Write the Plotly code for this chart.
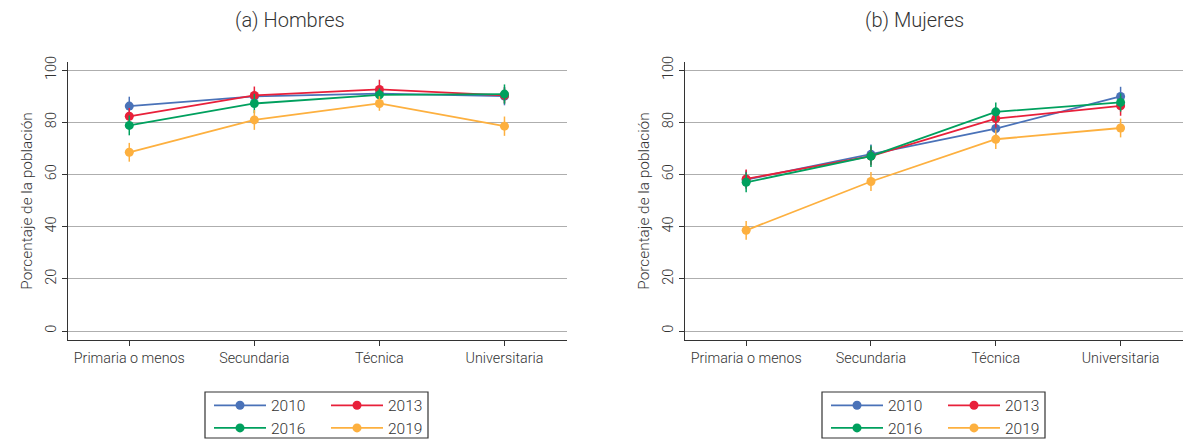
import plotly.graph_objects as go

categories = ["Primaria o menos", "Secundaria", "Técnica", "Universitaria"]
years = ["2010", "2013", "2016", "2019"]

# (a) Hombres
hombres_2010 = [86.2, 89.9, 91.0, 90.0]
hombres_2013 = [82.3, 90.3, 92.6, 90.3]
hombres_2016 = [78.8, 87.2, 90.5, 90.8]
hombres_2019 = [68.5, 80.9, 87.2, 78.5]
hombres_err_2010 = [3.6, 2.2, 2.0, 3.5]
hombres_err_2013 = [3.2, 3.4, 3.7, 3.0]
hombres_err_2016 = [3.8, 3.7, 2.5, 3.7]
hombres_err_2019 = [3.6, 3.8, 2.8, 3.7]

# (b) Mujeres
mujeres_2010 = [58.0, 67.7, 77.6, 89.9]
mujeres_2013 = [58.3, 67.0, 81.4, 86.3]
mujeres_2016 = [57.0, 67.0, 84.0, 87.6]
mujeres_2019 = [38.6, 57.3, 73.5, 77.8]
mujeres_err_2010 = [3.5, 3.8, 3.7, 3.7]
mujeres_err_2013 = [3.6, 3.5, 3.5, 3.8]
mujeres_err_2016 = [3.8, 4.1, 3.6, 3.5]
mujeres_err_2019 = [3.6, 3.6, 3.7, 3.6]

colors = {"2010": "#4A72B8", "2013": "#E8203A", "2016": "#00A05E", "2019": "#FDB03F"}

W, H = 1183, 440
FONT = "Roboto"
TXT = "#333333"

def px_x(p):
    return p / W

def px_y(p):
    return 1 - p / H

panels = [
    ("x", "y", [hombres_2010, hombres_2013, hombres_2016, hombres_2019],
     [hombres_err_2010, hombres_err_2013, hombres_err_2016, hombres_err_2019]),
    ("x2", "y2", [mujeres_2010, mujeres_2013, mujeres_2016, mujeres_2019],
     [mujeres_err_2010, mujeres_err_2013, mujeres_err_2016, mujeres_err_2019]),
]

fig = go.Figure()
leg_idx = 0
for xa, ya, series, errs in panels:
    for yr, vals, er in zip(years, series, errs):
        leg_idx += 1
        lname = "legend" if leg_idx == 1 else f"legend{leg_idx}"
        fig.add_trace(go.Scatter(
            x=categories, y=vals, name=yr, xaxis=xa, yaxis=ya,
            mode="lines+markers",
            line=dict(color=colors[yr], width=1.8),
            marker=dict(color=colors[yr], size=9),
            error_y=dict(type="data", array=er, visible=True, color=colors[yr],
                         thickness=1.5, width=0),
            legend=lname, showlegend=True,
        ))

# axis domains (pixel-derived)
ydom = [px_y(340), px_y(62)]
xdom1 = [px_x(68), px_x(567)]
xdom2 = [px_x(685), 1.0]
yrange = [-3.45, 103.1]
xrange_ = [-0.49, 3.5]

def xaxis_cfg(dom, anchor):
    return dict(domain=dom, anchor=anchor, type="category", range=xrange_,
                showline=True, linecolor="#333333", linewidth=1.2,
                ticks="outside", ticklen=5, tickcolor="#333333", tickwidth=1,
                showgrid=False, zeroline=False,
                tickfont=dict(family=FONT, size=14.3, color=TXT, weight=300))

def yaxis_cfg(anchor):
    return dict(domain=ydom, anchor=anchor, range=yrange,
                tickvals=[0, 20, 40, 60, 80, 100], tickangle=-90,
                showline=True, linecolor="#333333", linewidth=1.2,
                ticks="outside", ticklen=5, tickcolor="#333333", tickwidth=1,
                showgrid=True, gridcolor="#AEAEAE", gridwidth=1.4, zeroline=False,
                tickfont=dict(family=FONT, size=14.5, color=TXT, weight=300),
                title=dict(text="Porcentaje de la población", standoff=6,
                           font=dict(family=FONT, size=15.4, color=TXT, weight=300)))

layout = dict(
    width=W, height=H,
    margin=dict(l=0, r=0, t=0, b=0, autoexpand=False),
    paper_bgcolor="white", plot_bgcolor="white",
    font=dict(family=FONT, color=TXT),
    showlegend=True,
    xaxis=xaxis_cfg(xdom1, "y"), yaxis=yaxis_cfg("x"),
    xaxis2=xaxis_cfg(xdom2, "y2"), yaxis2=yaxis_cfg("x2"),
)

# legends: 2x2 grid per panel
box_left = [205, 822]
col_offsets = [4, 121]
row_y = [405.7, 428.3]
k = 0
for p in range(2):
    for i, yr in enumerate(years):
        k += 1
        lname = "legend" if k == 1 else f"legend{k}"
        r, c = divmod(i, 2)
        layout[lname] = dict(
            x=px_x(box_left[p] + col_offsets[c]), y=px_y(row_y[r]),
            xanchor="left", yanchor="middle", xref="paper", yref="paper",
            bgcolor="rgba(0,0,0,0)", borderwidth=0,
            font=dict(family=FONT, size=15.5, color=TXT, weight=300),
            itemwidth=52,
        )

fig.update_layout(**layout)

for bl in box_left:
    fig.add_shape(type="rect", xref="paper", yref="paper",
                  x0=px_x(bl), x1=px_x(bl + 223), y0=px_y(438), y1=px_y(392),
                  line=dict(color="#333333", width=1.2), fillcolor="rgba(0,0,0,0)")

for txt, cx in [("(a) Hombres", 290), ("(b) Mujeres", 914)]:
    fig.add_annotation(text=txt, x=px_x(cx), y=px_y(20), xref="paper", yref="paper",
                       xanchor="center", yanchor="middle", showarrow=False,
                       font=dict(family=FONT, size=20, color=TXT, weight=300))

fig.write_html("out.html", config={"displayModeBar": False},
               post_script="document.body.style.margin='0px';")
